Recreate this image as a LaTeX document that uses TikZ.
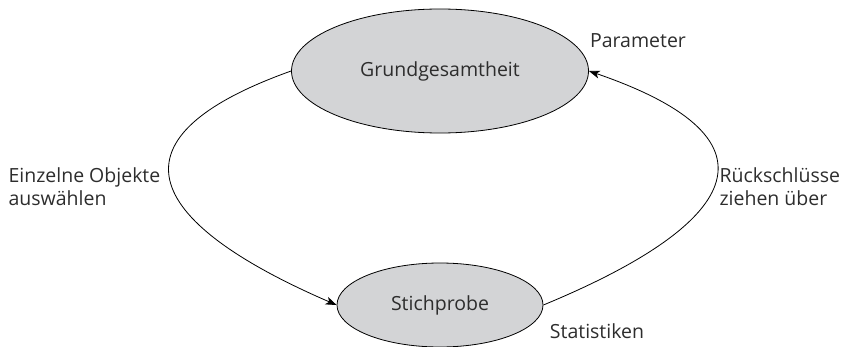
\documentclass[tikz,border=0pt]{standalone}
\usepackage{fontspec}
\setmainfont{Open Sans}
\usetikzlibrary{shapes.geometric,arrows.meta}
\definecolor{mengegrau}{RGB}{211,212,214}
\definecolor{textgrau}{RGB}{45,45,45}
\begin{document}
\begin{tikzpicture}[x=1pt,y=1pt,font=\fontsize{19.5}{23}\selectfont,text=textgrau,
        menge/.style={ellipse,draw,line width=0.8pt,fill=mengegrau,inner sep=0pt},
        pfeil/.style={-{Stealth[length=11pt,width=8pt,inset=3pt]},line width=0.8pt}]
        \useasboundingbox (0,0) rectangle (841,346);

        \node[menge,minimum width=297,minimum height=124] (gg) at (440,275) {Grundgesamtheit};
        \node[menge,minimum width=206,minimum height=84] (sp) at (440,41) {Stichprobe};

        \draw[pfeil] (gg.west) .. controls +(-196,-70) and +(-183,79) .. (sp.west);
        \draw[pfeil] (sp.east) .. controls +(191,79) and +(204,-70) .. (gg.east);

        \node (par) at (638,305) {Parameter};
        \node (stat) at (597,15) {Statistiken};
        \node[anchor=west,align=left] (links) at (5,159) {Einzelne Objekte\\auswählen};
        \node[anchor=west,align=left] (rechts) at (716,159) {Rückschlüsse\\ziehen über};

    \end{tikzpicture}
\end{document}
